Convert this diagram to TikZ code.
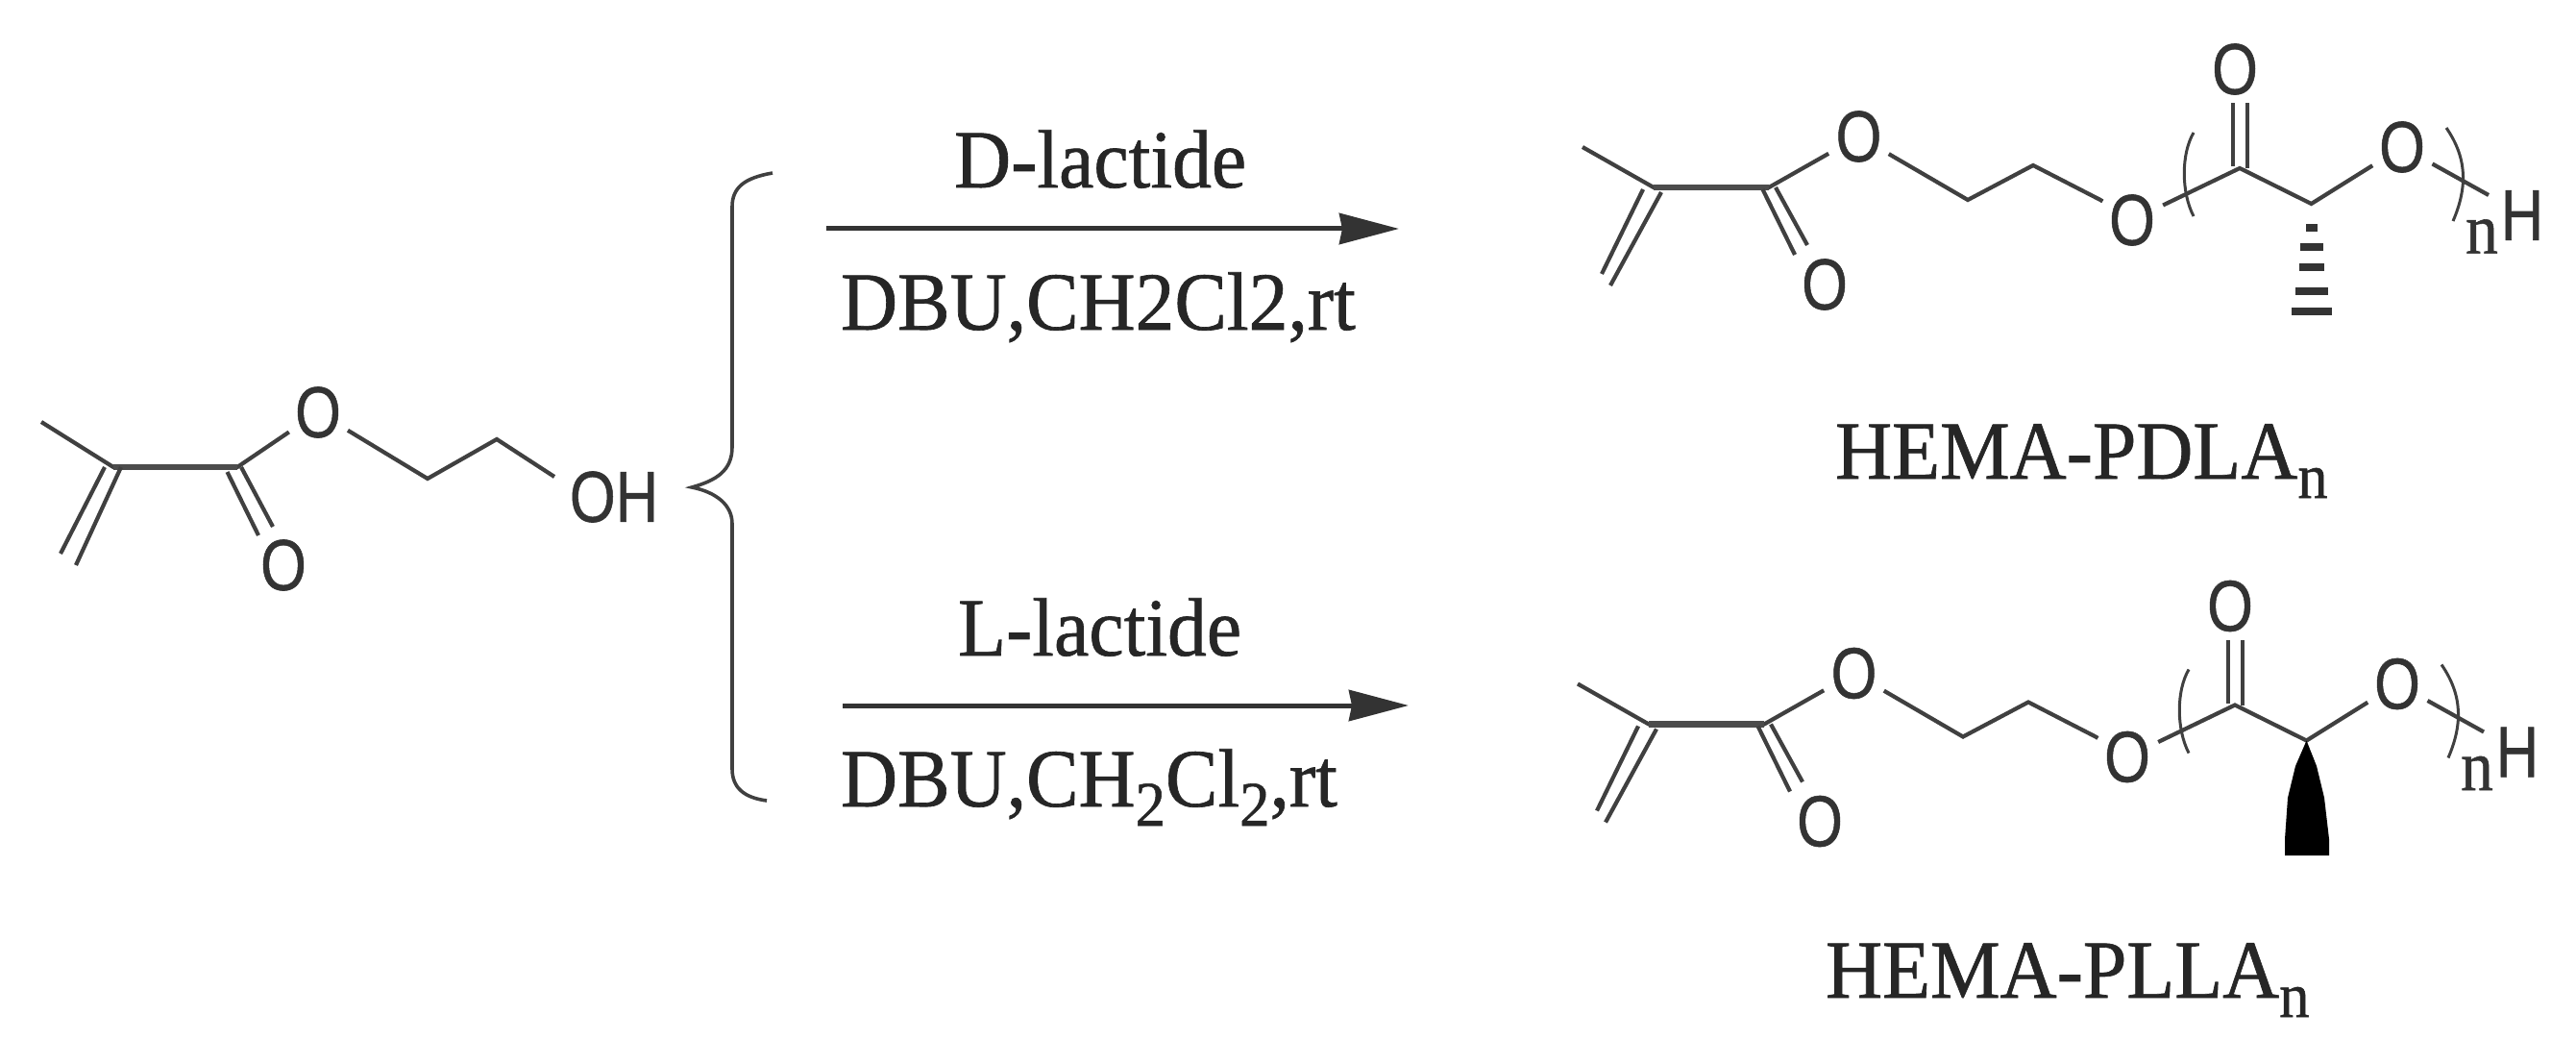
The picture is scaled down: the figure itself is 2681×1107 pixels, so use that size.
\documentclass[tikz,border=0pt]{standalone}
\usepackage{fontspec}
\setmainfont{Liberation Serif}[FakeBold=0.8]
\setsansfont{Liberation Sans}[FakeBold=0.8]
\usepackage{tikz}
\usetikzlibrary{arrows.meta}

\newcommand{\subtext}[1]{\raisebox{-20pt}{\fontsize{66}{66}\selectfont #1}}

\begin{document}
\begin{tikzpicture}[x=1pt, y=-1pt]
    \tikzset{
        bond/.style = {draw, line width=4.2pt, black!75},
        thickbond/.style = {draw, line width=6.5pt, black!70},
        thinbond/.style = {draw, line width=3pt, black!75},
        atom/.style = {circle, inner sep=0pt, minimum size=84pt, text=black!80, font=\fontsize{75}{75}\sffamily\selectfont, xscale=.82, transform shape},
        label/.style = {anchor=base west, inner sep=0pt, text=black!85, font=\fontsize{86}{86}\selectfont, xscale=.95, transform shape},
        line/.style = {draw, line width=5pt, black!80, -{Stealth[length=62pt, width=32pt, inset=3pt]}},
        hemachain/.pic = {
            \coordinate (methyl) at (1647,153);
            \coordinate (c1) at (1721,195);
            \coordinate (c2) at (1841,195);
            \coordinate (c3) at (2048,208);
            \coordinate (c4) at (2116,172);
            \coordinate (c5) at (2186,208);
            \coordinate (c6) at (2331,175);
            \coordinate (ch) at (2405.5,212);
            \coordinate (term) at (2590,203);
            \node[atom] (o1) at (1934.5,142) {O};
            \node[atom] (o2) at (1899,296) {O};
            \node[atom] (o3) at (2219,229) {O};
            \node[atom] (o4) at (2326,72) {O};
            \node[atom] (o5) at (2500,153) {O};
            \node[atom, minimum size=10pt] (hend) at (2625,224) {H};
            \node[atom, font=\fontsize{75}{75}\selectfont, minimum size=10pt, xscale=1.1] (rep) at (2583,246) {n};
            \draw[bond] (methyl) -- (c1) -- (c2) -- (o1) -- (c3) -- (c4) -- (c5) -- (o3) -- (c6) -- (ch) -- (o5) -- (term);
            \draw[thickbond] (c1) -- (c2);
            % double bonds
            \draw[bond] (1710,197) -- (1667,285);
            \draw[bond] (1729,200) -- (1676,297);
            \draw[bond] (1834.5,197) -- (1868,265);
            \draw[bond] (1848,195) -- (1881,255);
            \draw[bond] (2324,173) -- (2324,107);
            \draw[bond] (2339,175) -- (2339,107);
            % repeat unit brackets
            \draw[thinbond] (2283,138) .. controls (2270,160) and (2270,200) .. (2283,225);
            \draw[thinbond] (2546,133) .. controls (2568,165) and (2568,195) .. (2553,230);
        }
    }
    \useasboundingbox (0,0) rectangle (2681,1107);

    % starting alcohol
    \coordinate (methyl) at (43,439);
    \coordinate (c1) at (118,486);
    \coordinate (c2) at (247,486);
    \coordinate (c3) at (445,498);
    \coordinate (c4) at (517,457);
    \coordinate (ohend) at (577,496);
    \node[atom] (oa) at (331,429) {O};
    \node[atom] (ob) at (295,588) {O};
    \node[atom, minimum size=10pt] (oh) at (639,517) {OH};
    \draw[bond] (methyl) -- (c1) -- (c2) -- (oa) -- (c3) -- (c4) -- (ohend);
    \draw[thickbond] (c1) -- (c2);
    \draw[bond] (109,486) -- (63,576);
    \draw[bond] (126,486) -- (79,588);
    \draw[bond] (236.5,491) -- (269,557);
    \draw[bond] (251,486) -- (284,548);

    % brace
    \draw[thinbond, line width=3.6pt] (804,180) .. controls (775,185) and (762,195) .. (762,215) -- (762,465)
        .. controls (762,490) and (745,500) .. (720,507) .. controls (745,512) and (762,525) .. (762,545)
        -- (762,800) .. controls (762,820) and (775,830) .. (798,833);

    % reactions
    \coordinate (startd) at (860,238);
    \coordinate (endd) at (1456,238);
    \coordinate (startl) at (877,734);
    \coordinate (endl) at (1466,734);
    \path[line] (startd) -- (endd);
    \path[line] (startl) -- (endl);
    \node[label] (dlac) at (993,195) {D-lactide};
    \node[label] (dcond) at (875,343) {DBU,CH2Cl2,rt};
    \node[label] (llac) at (997,682) {L-lactide};
    \node[label] (lcond) at (875,839) {DBU,CH\subtext{2}Cl\subtext{2},rt};

    % products
    \pic (pd-) at (0,0) {hemachain};
    \pic (pl-) at (-5,558.5) {hemachain};
    \node[label] (pdla) at (1910,498) {HEMA-PDLA\subtext{n}};
    \node[label] (plla) at (1900,1038) {HEMA-PLLA\subtext{n}};

    % hashed bond
    \foreach \ypos/\hw in {237/6, 257/12, 278/13, 303/17, 324/21}{
        \fill[black!80] (2405.5-\hw,\ypos-4) rectangle (2405.5+\hw,\ypos+4);
    }
    % solid wedge
    \fill[black] (pl-ch) -- (2411,797) -- (2419,830) -- (2424,873) -- (2424,890) -- (2378,890) -- (2378,873) -- (2381,830) -- (2389,797) -- cycle;
\end{tikzpicture}
\end{document}
